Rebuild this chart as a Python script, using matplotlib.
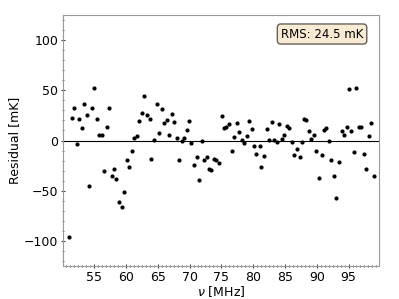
import numpy as np
import matplotlib.pyplot as plt
from matplotlib.ticker import MultipleLocator

# Частоты каналов [MHz]
freq = [51.1, 51.5, 51.9, 52.3, 52.6, 53.1, 53.4, 53.8, 54.2, 54.6,
        55.0, 55.4, 55.8, 56.2, 56.6, 57.0, 57.3, 57.75, 58.1, 58.5,
        58.9, 59.3, 59.7, 60.1, 60.5, 60.9, 61.3, 61.7, 62.1, 62.5,
        62.9, 63.3, 63.7, 64.0, 64.4, 64.8, 65.2, 65.6, 66.0, 66.4,
        66.8, 67.2, 67.6, 68.0, 68.4, 68.8, 69.1, 69.6, 69.9, 70.3,
        70.7, 71.1, 71.5, 71.9, 72.3, 72.7, 73.1, 73.4, 73.9, 74.2,
        74.6, 75.05, 75.4, 75.8, 76.2, 76.6, 77.0, 77.4, 77.8, 78.2,
        78.6, 79.0, 79.4, 79.8, 80.2, 80.5, 81.0, 81.3, 81.7, 82.1,
        82.5, 82.9, 83.3, 83.7, 84.1, 84.5, 84.9, 85.3, 85.7, 86.1,
        86.5, 86.9, 87.3, 87.7, 88.0, 88.3, 88.8, 89.1, 89.6, 89.95,
        90.3, 90.8, 91.1, 91.5, 91.9, 92.3, 92.7, 93.1, 93.5, 93.9,
        94.3, 94.7, 95.05, 95.4, 95.8, 96.2, 96.6, 97.0, 97.4, 97.8,
        98.2, 98.6, 99.0]

# Остатки [mK]
resid = [-96, 22.7, 32.3, -3, 21.7, 12.7, 36.7, 25.7, -45.3, 32.3,
         52, 21, 6, 6, -30, 13.3, 32, -35.7, -28.7, -38.3,
         -61.3, -65.7, -51.7, -19, -26, -10, 2.7, 4.3, 19.7, 27.3,
         44.3, 25.3, 21.3, -18.3, 1, 36.3, 7.7, 31.7, 17.7, 20.7,
         5.7, 26.3, 18, 2.7, -19.3, 0, 3, 10, 19.7, -2,
         -24.3, -16.7, -39, 0, -19.3, -16, -28.7, -29.7, -18.3, -19,
         -22, 24.3, 12.3, 13, 16, -10.7, 4, 17.7, 8, 1,
         -2, 4.3, 19, 11.7, -5, -13.3, -5.7, -26.3, -15.7, 11,
         0.3, 18.3, 0.7, -1, 16.3, 2, 6, 14.3, 12.3, -1.7,
         -14.3, -8, -16, -1, 21.7, 20.3, 9.3, 2, 5.7, -10,
         -37.3, -14, 10, 12.3, 0, -19, -35.3, -57, -21.3, 9.3,
         6, 13.7, 51, 9.3, -11.3, 52, 13.7, 13, -13.7, -28.7,
         4.3, 17, -35]

rms_text = 'RMS: 24.5 mK'

plt.rcParams['font.size'] = 9

fig = plt.figure(figsize=(3.99, 2.99), dpi=100)
ax = fig.add_axes([0.158, 0.11, 0.792, 0.84])

ax.plot(freq, resid, 'k.', markersize=4)
ax.axhline(0, color='k', linewidth=0.8)

ax.set_xlim(50.1, 99.8)
ax.set_ylim(-125, 125)
ax.xaxis.set_major_locator(MultipleLocator(5))
ax.xaxis.set_minor_locator(MultipleLocator(0.625))
ax.yaxis.set_major_locator(MultipleLocator(50))
ax.yaxis.set_minor_locator(MultipleLocator(10))

for s in ax.spines.values():
    s.set_color('#999999')
ax.tick_params(which='major', color='#444444', length=3, direction='inout', pad=2)
ax.tick_params(which='minor', color='#444444', length=2, direction='inout')

ax.set_xlabel(r'$\nu$ [MHz]', labelpad=0)
ax.set_ylabel('Residual [mK]', labelpad=2)

ax.text(0.95, 0.95, rms_text, transform=ax.transAxes, ha='right', va='top',
        fontsize=8.5,
        bbox=dict(boxstyle='round', facecolor='wheat', alpha=0.6))

fig.savefig('out.png', dpi=100)
